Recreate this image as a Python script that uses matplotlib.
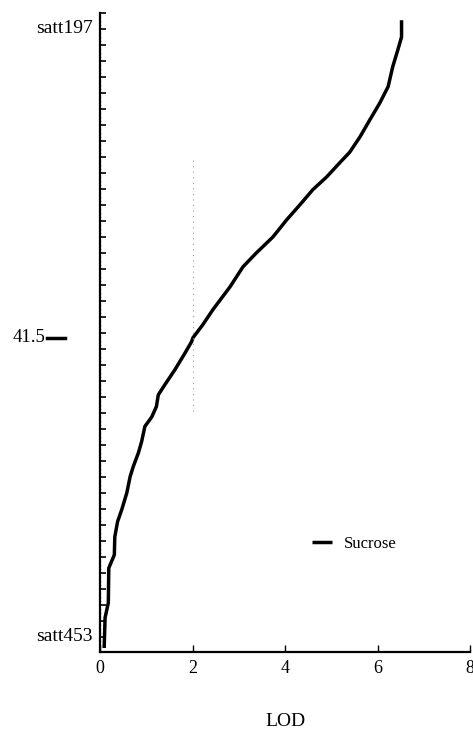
import matplotlib
matplotlib.use("Agg")
import matplotlib.pyplot as plt
import matplotlib.transforms as mtransforms
import numpy as np

# LOD profile (x = LOD, y = map position from the top marker)
lod = [6.52, 6.52, 6.44, 6.33, 6.23, 6.05, 5.83, 5.62, 5.40, 5.18, 4.90, 4.60,
       4.32, 4.03, 3.74, 3.38, 3.09, 2.81, 2.44, 2.22, 2.01, 1.98, 1.84, 1.62,
       1.40, 1.26, 1.22, 1.12, 0.97, 0.90, 0.83, 0.72, 0.65, 0.58, 0.47, 0.38,
       0.32, 0.31, 0.19, 0.18, 0.11, 0.09]
pos = [0.9, 3.0, 4.6, 6.7, 9.2, 11.25, 13.4, 15.5, 17.4, 18.75, 20.5, 22.1,
       24.0, 25.9, 28.0, 30.0, 31.75, 34.25, 37.1, 39.0, 40.6, 41.1, 42.5, 44.6,
       46.5, 47.75, 49.2, 50.5, 51.7, 53.6, 55.0, 56.7, 58.0, 60.0, 62.1, 63.6,
       65.5, 67.75, 69.4, 73.75, 75.6, 79.4]

threshold = 2.0
threshold_span = [18.4, 50.3]
marker_pos = [1.9, 40.6, 77.9]
marker_labels = ["satt197", "41.5", "satt453"]
xticks = [0, 2, 4, 6, 8]

plt.rcParams['font.family'] = ['Liberation Serif', 'DejaVu Serif']

fig = plt.figure(figsize=(4.73, 7.31), dpi=100)
ax = fig.add_axes([100/473, 1 - 652/731, 370/473, 639/731])

ax.plot(lod, pos, color='black', lw=2.5, label='Sucrose', solid_capstyle='butt')
ax.plot([threshold, threshold], threshold_span, color='#999999', lw=0.8,
        linestyle=(0, (1, 4)))

ax.set_xlim(0, 8)
ax.set_ylim(79.9, 0)
ax.set_xticks(xticks)
ax.set_xticklabels([str(t) for t in xticks], fontsize=13)
ax.set_xlabel('LOD', fontsize=14, labelpad=26)

ax.set_yticks(np.arange(0, 80, 2))
ax.set_yticks(np.arange(0, 80, 0.5), minor=True)
ax.tick_params(axis='y', which='major', direction='in', length=4, width=1.2,
               labelleft=False)
ax.tick_params(axis='y', which='minor', direction='in', length=1.0, width=0.5,
               color='#888888')
ax.tick_params(axis='x', which='major', direction='in', length=5, width=1.0, pad=6)

for s in ['top', 'right']:
    ax.spines[s].set_visible(False)
ax.spines['left'].set_linewidth(1.6)
ax.spines['bottom'].set_linewidth(1.6)

trans = mtransforms.blended_transform_factory(ax.transAxes, ax.transData)
for p, lab in zip(marker_pos, marker_labels):
    if lab == "41.5":
        ax.text(-0.148, p, lab, transform=trans, ha='right', va='center',
                fontsize=13.5)
        ax.plot([-0.142, -0.095], [p, p], transform=trans, color='black',
                lw=2.5, clip_on=False)
    else:
        ax.text(-0.02, p, lab, transform=trans, ha='right', va='center',
                fontsize=14)

ax.legend(loc='upper left', bbox_to_anchor=(0.55, 0.195), frameon=False,
          fontsize=12, handlelength=1.2, handletextpad=0.7, borderpad=0)

fig.savefig('out.png', dpi=100)
